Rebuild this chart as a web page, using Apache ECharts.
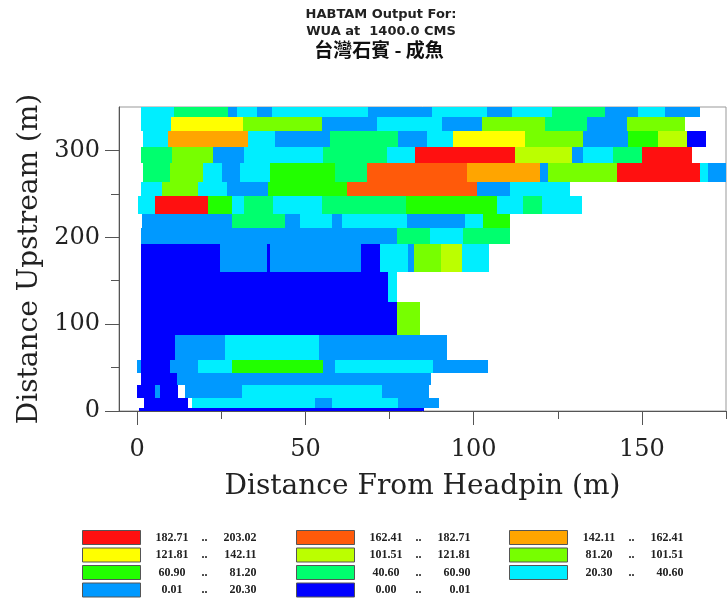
<!DOCTYPE html>
<html><head><meta charset="utf-8">
<script src="https://cdn.jsdelivr.net/npm/echarts@6/dist/echarts.min.js"></script>
<style>html,body{margin:0;padding:0;background:#fff}#c{width:727px;height:601px}</style>
</head><body><div id="c"></div>
<script>
// value classes (index 0 = lowest)
const classLabels = [
  '0.00 .. 0.01', '0.01 .. 20.30', '20.30 .. 40.60', '40.60 .. 60.90',
  '60.90 .. 81.20', '81.20 .. 101.51', '101.51 .. 121.81', '121.81 .. 142.11',
  '142.11 .. 162.41', '162.41 .. 182.71', '182.71 .. 203.02'
];
const classColors = [
  '#0000ff', '#0099ff', '#00eeff', '#00ff6e', '#22ff00', '#77ff00',
  '#bbff00', '#ffff00', '#ffa500', '#ff5a0a', '#ff1010'
];
// transect rows: [bottom, top] distance upstream (m)
const rowSpans = [
  [339, 350], [322, 339], [304, 322], [285, 304], [264, 285], [247, 264],
  [227, 247], [211, 227], [192, 211], [160, 192], [125, 160], [88, 125],
  [59, 88], [44, 59], [30.5, 44], [15, 30.5], [4, 15], [0, 4]
];
// cells per row: [from, to (m from headpin), class index]
const rowCells = [
  [[1.1,10.9,2],[10.9,27,3],[27,29.7,1],[29.7,35.6,2],[35.6,40.1,1],[40.1,68.6,2],[68.6,87.6,1],[87.6,104,2],[104,111.4,1],[111.4,123.3,2],[123.3,139,3],[139,148.8,1],[148.8,156.8,2],[156.8,167.2,1]],
  [[1.1,10,2],[10,31.5,7],[31.5,54.9,5],[54.9,71.3,1],[71.3,90.6,2],[90.6,102.5,1],[102.5,121.2,5],[121.2,133.7,3],[133.7,145.6,1],[145.6,162.8,5]],
  [[1.7,9.2,2],[9.2,32.9,8],[32.9,41,2],[41,57.3,1],[57.3,77.5,3],[77.5,86.1,1],[86.1,93.8,2],[93.8,115.2,7],[115.2,132.5,5],[132.5,145.9,1],[145.9,154.8,4],[154.8,163.4,6],[163.4,169,0]],
  [[1.1,10.3,3],[10.3,22.5,5],[22.5,31.7,1],[31.7,55.2,2],[55.2,74.2,3],[74.2,82.6,2],[82.6,112.3,10],[112.3,129.3,6],[129.3,132.5,1],[132.5,141.5,2],[141.5,150.1,3],[150.1,165,10]],
  [[1.7,9.8,3],[9.8,19.6,5],[19.6,25.2,2],[25.2,30.6,1],[30.6,39.5,2],[39.5,58.8,4],[58.8,68.3,3],[68.3,98,9],[98,119.8,8],[119.8,122.1,1],[122.1,142.6,5],[142.6,167.3,10],[167.3,169.7,2],[169.7,175,1]],
  [[1.1,7.4,2],[7.4,18.1,5],[18.1,26.7,2],[26.7,38.9,1],[38.9,62.4,4],[62.4,101,9],[101,110.9,1],[110.9,128.7,2]],
  [[0.2,5.3,2],[5.3,21,10],[21,28.2,4],[28.2,31.7,2],[31.7,40.4,3],[40.4,54.9,2],[54.9,79.9,3],[79.9,107,4],[107,114.7,2],[114.7,120.4,3],[120.4,132.3,2]],
  [[1.4,28.2,1],[28.2,44,3],[44,48.4,1],[48.4,57.9,2],[57.9,60.9,1],[60.9,80.2,2],[80.2,97.5,1],[97.5,102.8,2],[102.8,110.9,4]],
  [[1.1,77.2,1],[77.2,87,3],[87,96.9,2],[96.9,110.9,3]],
  [[1.1,24.6,0],[24.6,38.6,1],[38.6,39.5,0],[39.5,66.6,1],[66.6,72.2,0],[72.2,80.5,2],[80.5,82.3,1],[82.3,90.3,5],[90.3,96.6,6],[96.6,104.6,2]],
  [[1.1,74.6,0],[74.6,77.2,2]],
  [[1.1,77.2,0],[77.2,84.1,5]],
  [[1.1,11.2,0],[11.2,26.2,1],[26.2,54.1,2],[54.1,92.1,1]],
  [[0,1.1,1],[1.1,9.8,0],[9.8,18.1,1],[18.1,28.2,2],[28.2,55.2,4],[55.2,58.8,1],[58.8,87.9,2],[87.9,104.3,1]],
  [[1.1,11.9,0],[11.9,87.3,1]],
  [[0,5.3,0],[5.3,6.8,1],[6.8,12.1,0],[14.2,31.2,1],[31.2,72.8,2],[72.8,86.8,1]],
  [[2,15.1,0],[16.3,52.9,2],[52.9,57.9,1],[57.9,77.5,2],[77.5,89.7,1]],
  [[0.5,85.3,0]]
];
const xMajorTicks = [0, 50, 100, 150];
const xMinorTicks = [25, 75, 125, 175];
const yMajorTicks = [0, 100, 200, 300];
const yMinorTicks = [50, 150, 250];
const legendColumns = [[10, 7, 4, 1], [9, 6, 3, 0], [8, 5, 2]];
const titleLines = ['HABTAM Output For:', 'WUA at  1400.0 CMS', '台灣石賓 - 成魚'];

const chart = echarts.init(document.getElementById('c'), null, {renderer: 'canvas'});

const buckets = classLabels.map(() => []);
rowCells.forEach((cells, i) => {
  const [y0, y1] = rowSpans[i];
  cells.forEach(([x0, x1, k]) => buckets[k].push([x0, x1, y0, y1]));
});

function renderCell(color) {
  return function (params, api) {
    const a = api.coord([api.value(0), api.value(2)]);
    const b = api.coord([api.value(1), api.value(3)]);
    const x0 = Math.round(a[0]), x1 = Math.round(b[0]);
    const yb = Math.round(a[1]), yt = Math.round(b[1]);
    return {type: 'rect', shape: {x: x0, y: yt, width: x1 - x0, height: yb - yt}, style: {fill: color}};
  };
}

const series = classLabels.map((lab, k) => ({
  type: 'custom', name: lab, xAxisIndex: 0, yAxisIndex: 0,
  renderItem: renderCell(classColors[k]),
  itemStyle: {color: classColors[k]},
  encode: {x: [0, 1], y: [2, 3]},
  data: buckets[k], clip: true, animation: false, silent: true
}));

const axisColor = '#555';
const serif = 'DejaVu Serif';
const lt = {fontFamily: 'Liberation Serif', fontWeight: 'bold', fontSize: 12, color: '#222', lineHeight: 14};
const legendText = Object.assign({}, lt, {
  rich: {
    a: Object.assign({width: 53, align: 'right'}, lt),
    b: Object.assign({width: 12, align: 'center'}, lt),
    c: Object.assign({width: 46, align: 'right'}, lt)
  }
});
const legendLefts = [82, 296, 509];
const gridRect = {left: 119, right: 1, top: 107, bottom: 190};

chart.setOption({
  animation: false,
  backgroundColor: '#fff',
  grid: [
    Object.assign({show: true, borderColor: '#999', borderWidth: 1}, gridRect),
    Object.assign({show: false}, gridRect)
  ],
  xAxis: [{
    gridIndex: 0, type: 'value', min: -5.4, max: 175, position: 'bottom',
    axisLine: {show: true, onZero: false, lineStyle: {color: axisColor}},
    axisTick: {show: true, length: 14, customValues: xMajorTicks, lineStyle: {color: axisColor}},
    axisLabel: {customValues: xMajorTicks, fontFamily: serif, fontSize: 24, color: '#222', margin: 27},
    splitLine: {show: false},
    name: 'Distance From Headpin (m)', nameLocation: 'middle', nameGap: 62,
    nameTextStyle: {fontFamily: serif, fontSize: 28, color: '#222'}
  }, {
    gridIndex: 1, type: 'value', min: -5.4, max: 175, position: 'bottom',
    axisLine: {show: false, onZero: false},
    axisTick: {show: true, length: 8, customValues: xMinorTicks, lineStyle: {color: axisColor}},
    axisLabel: {show: false}, splitLine: {show: false}
  }],
  yAxis: [{
    gridIndex: 0, type: 'value', min: 0, max: 350, position: 'left',
    axisLine: {show: true, onZero: false, lineStyle: {color: axisColor}},
    axisTick: {show: true, length: 14, customValues: yMajorTicks, lineStyle: {color: axisColor}},
    axisLabel: {customValues: yMajorTicks, fontFamily: serif, fontSize: 24, color: '#222', margin: 19},
    splitLine: {show: false},
    name: 'Distance Upstream (m)', nameLocation: 'middle', nameGap: 75,
    nameTextStyle: {fontFamily: serif, fontSize: 28, color: '#222'}
  }, {
    gridIndex: 1, type: 'value', min: 0, max: 350, position: 'left',
    axisLine: {show: false, onZero: false},
    axisTick: {show: true, length: 8, customValues: yMinorTicks, lineStyle: {color: axisColor}},
    axisLabel: {show: false}, splitLine: {show: false}
  }],
  legend: legendColumns.map((col, j) => ({
    orient: 'vertical', left: legendLefts[j], top: 530, height: 80, padding: 0,
    data: col.map(k => classLabels[k]),
    icon: 'rect', itemWidth: 58, itemHeight: 14, itemGap: 2.5,
    itemStyle: {borderColor: '#555', borderWidth: 1},
    selectedMode: false,
    textStyle: legendText,
    formatter: name => {
      const p = name.split(' .. ');
      return '{a|' + p[0] + '}{b|..}{c|' + p[1] + '}';
    }
  })),
  graphic: [
    {type: 'text', x: 381, y: 15, style: {text: titleLines[0], align: 'center', verticalAlign: 'middle', font: 'bold 13px "DejaVu Sans"', fill: '#222'}},
    {type: 'text', x: 381, y: 32, style: {text: titleLines[1], align: 'center', verticalAlign: 'middle', font: 'bold 13px "DejaVu Sans"', fill: '#222'}},
    {type: 'text', x: 379, y: 50, style: {text: titleLines[2], align: 'center', verticalAlign: 'middle', font: 'bold 19px "Noto Sans CJK TC"', fill: '#111'}}
  ],
  series: series
});
</script>
</body></html>
